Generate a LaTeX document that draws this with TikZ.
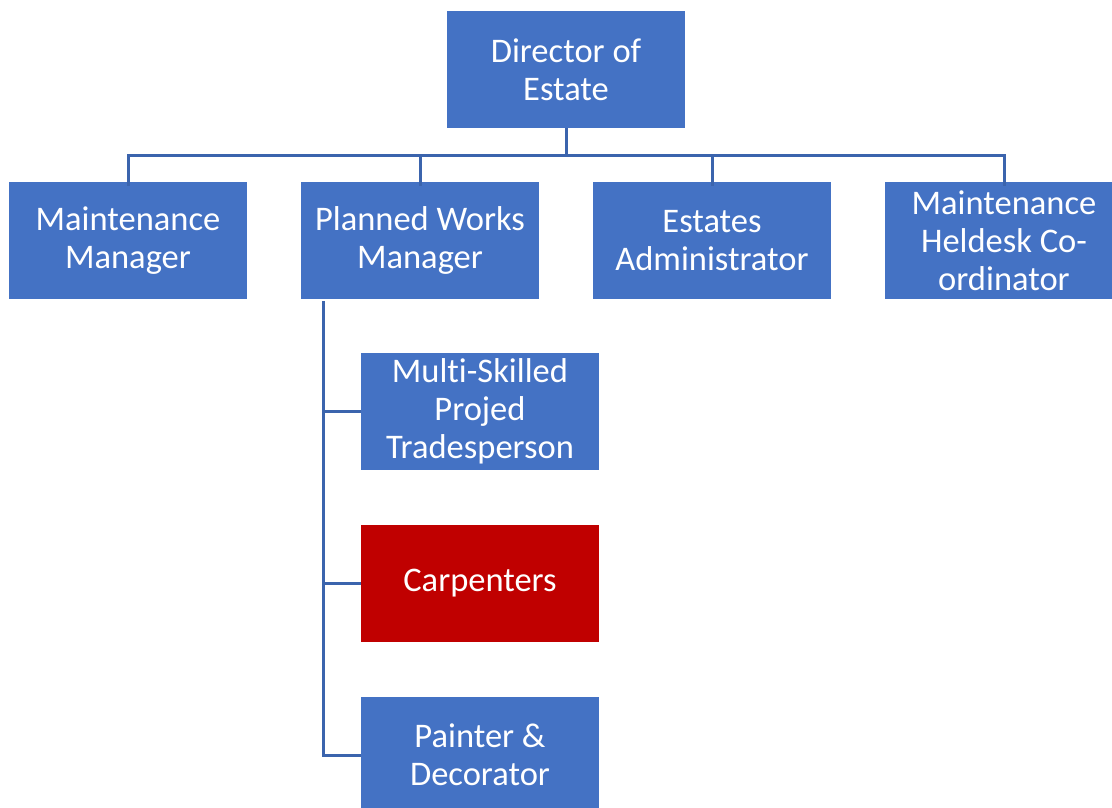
\documentclass[tikz,border=0pt]{standalone}
\usepackage{fontspec}
\setmainfont{Carlito}[Ligatures=NoCommon]
\definecolor{boxblue}{HTML}{4472C4}
\definecolor{linkblue}{HTML}{3B64AD}
\definecolor{boxred}{HTML}{C00000}
\tikzset{
  orgbox/.style={fill=boxblue, draw=none, minimum width=238pt, minimum height=117pt,
    inner sep=0pt, align=center, text=white, font=\fontsize{34.5}{38}\selectfont},
  redbox/.style={orgbox, fill=boxred},
  conn/.style={draw=linkblue, line width=3pt}
}
\begin{document}
\begin{tikzpicture}[x=1pt,y=-1pt]
\useasboundingbox (0,0) rectangle (1112,807);
\clip (0,0) rectangle (1112,807);
\fill[white] (0,0) rectangle (1112,807);
\node[orgbox] (dir) at (566,69.5) {Director of\\Estate};
\node[orgbox] (mm)  at (128,240.5) {Maintenance\\Manager};
\node[orgbox] (pwm) at (420,240.5) {Planned Works\\Manager};
\node[orgbox] (ea)  at (712,240.5) {Estates\\Administrator};
\node[orgbox] (mhc) at (1004,240.5) {Maintenance\\Heldesk Co-\\ordinator};
\node[orgbox] (ms)  at (480,411.5) {Multi-Skilled\\Projed\\Tradesperson};
\node[redbox] (car) at (480,583) {Carpenters};
\node[orgbox] (pd)  at (480,755) {Painter \&\\Decorator};
\coordinate (bus) at (566,155);
\coordinate (spine) at (323,301);
\draw[conn] (dir.south) -- (bus);
\foreach \n in {mm,pwm,ea,mhc}{
  \draw[conn] (bus) -| ([yshift=-4pt]\n.north);
}
\draw[conn] (spine) |- (ms.west);
\draw[conn] (spine) |- (car.west);
\draw[conn] (spine) |- (pd.west);
\end{tikzpicture}
\end{document}
